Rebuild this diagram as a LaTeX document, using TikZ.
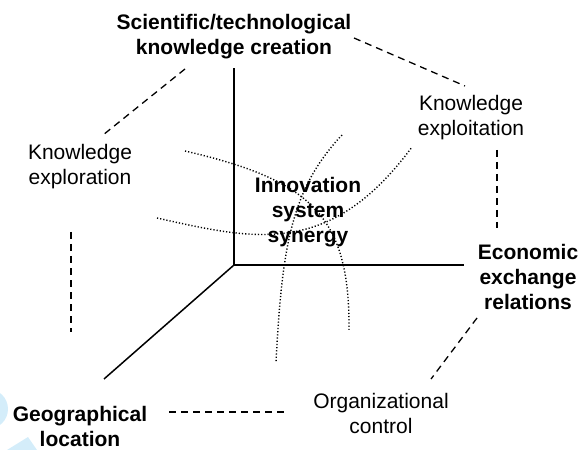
\documentclass[tikz,border=0pt]{standalone}
\usepackage{fontspec}
\setmainfont{Liberation Sans}
\usetikzlibrary{positioning}

\definecolor{wmblue}{RGB}{212,237,250}

\begin{document}
\begin{tikzpicture}[
  x=1bp, y=-1bp,
  every node/.style={font=\fontsize{21bp}{25bp}\selectfont, align=center, inner sep=0pt},
  lbl/.style={},
  key/.style={font=\fontsize{21bp}{25bp}\selectfont\bfseries},
  axis/.style={line width=1.5bp},
  link/.style={line width=1.3bp, dash pattern=on 7bp off 5bp},
  flow/.style={line width=1.4bp, dash pattern=on 1.2bp off 2bp}
]
\useasboundingbox (0,0) rectangle (582,450);

% faint mark in the corner
\fill[wmblue] (-12,409) circle (20);
\fill[wmblue] (7,450) -- (28,437) -- (37,450) -- cycle;

% Axes
\coordinate (O)    at (234,265);
\coordinate (up)   at (234,68);
\coordinate (east) at (464,265);
\coordinate (west) at (104,379);
\draw[axis] (O) -- (up);
\draw[axis] (O) -- (east);
\draw[axis] (O) -- (west);

% Nodes
\node[key] (create)  at (234,37)  {Scientific/technological\\knowledge creation};
\node[lbl] (explore) at (80,167)  {Knowledge\\exploration};
\node[lbl] (exploit) at (471,118) {Knowledge\\exploitation};
\node[key] (synergy) at (308,212) {Innovation\\system\\synergy};
\node[key] (econ)    at (528,277) {Economic\\exchange\\relations};
\node[lbl] (org)     at (381,413) {Organizational\\control};
\node[key] (geo)     at (80,426)  {Geographical\\location};

% Dashed links
\coordinate (c1) at (185,69);  \coordinate (e1) at (103,135);
\coordinate (c2) at (354,38);  \coordinate (x1) at (465,86);
\coordinate (x2) at (497,150); \coordinate (n1) at (497,228);
\coordinate (n2) at (477,318); \coordinate (o1) at (431,379);
\coordinate (g1) at (169,412); \coordinate (o2) at (287,412);
\coordinate (e2) at (71,232);  \coordinate (g2) at (71,332);
\draw[link] (c1) -- (e1);
\draw[link] (c2) -- (x1);
\draw[link] (x2) -- (n1);
\draw[link] (n2) -- (o1);
\draw[link] (g1) -- (o2);
\draw[link] (e2) -- (g2);

% Dotted curves
\coordinate (d1a) at (185,151); \coordinate (d1b) at (349,330);
\coordinate (d2a) at (157,218); \coordinate (d2b) at (412,147);
\coordinate (d3a) at (342,135); \coordinate (d3b) at (276,362);
\draw[flow] (d1a) .. controls (310,180) and (350,215) .. (d1b);
\draw[flow] (d2a) .. controls (255,240) and (330,258) .. (d2b);
\draw[flow] (d3a) .. controls (290,190) and (282,250) .. (d3b);

\end{tikzpicture}
\end{document}
